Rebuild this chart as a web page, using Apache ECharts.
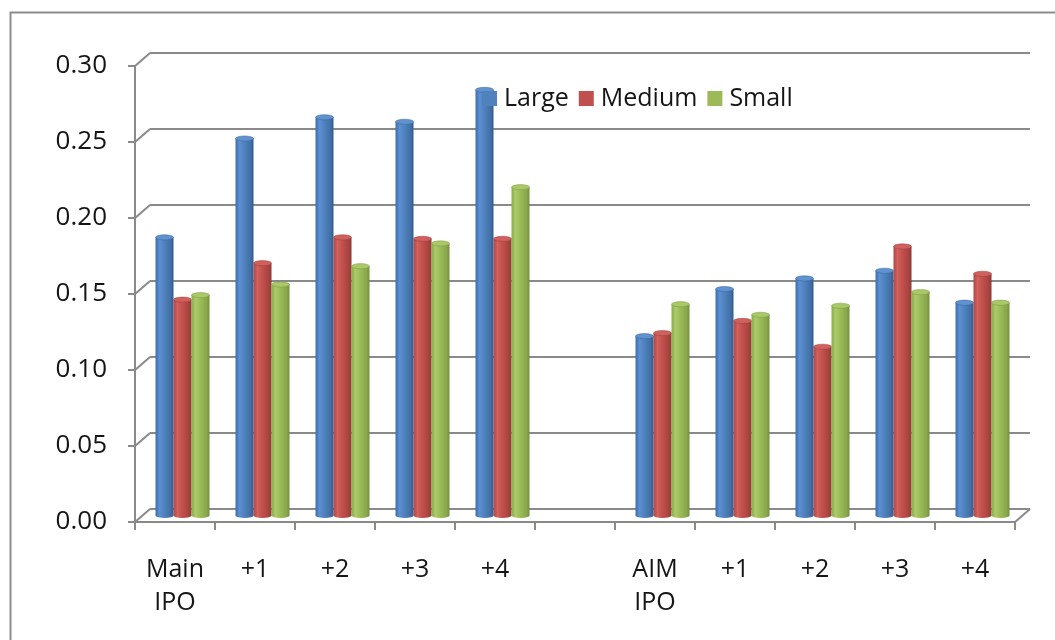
<!DOCTYPE html>
<html>
<head>
<meta charset="utf-8">
<script src="https://cdn.jsdelivr.net/npm/echarts@6/dist/echarts.min.js"></script>
<style>
  html, body { margin: 0; padding: 0; background: #ffffff; }
  #chart { width: 1055px; height: 640px; }
</style>
</head>
<body>
<div id="chart"></div>
<script>
// Categories along the x axis (blank slot separates Main market from AIM)
const categories = ['Main\nIPO', '+1', '+2', '+3', '+4', '', 'AIM\nIPO', '+1', '+2', '+3', '+4'];
const seriesNames = ['Large', 'Medium', 'Small'];
const large  = [0.183, 0.248, 0.262, 0.259, 0.280, null, 0.118, 0.149, 0.156, 0.161, 0.140];
const medium = [0.142, 0.166, 0.183, 0.182, 0.182, null, 0.120, 0.128, 0.111, 0.177, 0.159];
const small  = [0.145, 0.152, 0.164, 0.179, 0.216, null, 0.139, 0.132, 0.138, 0.147, 0.140];
const yTicks = [0, 0.05, 0.10, 0.15, 0.20, 0.25, 0.30];

// Oblique "3D" projection: back wall sits this far right/up of the front axes
const DEPTH_X = 15, DEPTH_Y = -13;
const BAR_W = 18;
const GRID_COLOR = '#8a8a8a';
const TEXT_COLOR = '#151515';
const FONT = 'Open Sans';

const palettes = [
  { base: '#4F81BD', stops: ['#3f6ea8', '#5b90d2', '#4f81bd', '#416ea6', '#325a8c'], top: '#5f92cf', edge: '#3a6499' },
  { base: '#C0504D', stops: ['#ae4744', '#d3605c', '#c0504d', '#a8433f', '#8e3734'], top: '#cf605d', edge: '#9c3d3a' },
  { base: '#9BBB59', stops: ['#8aaa4d', '#abca68', '#9bbb59', '#88a54b', '#728f3c'], top: '#a9c867', edge: '#7d9944' }
];

function toPairs(arr) {
  const out = [];
  arr.forEach((v, i) => { if (v != null) out.push([i, v]); });
  return out;
}

// Cylinder columns drawn through the front grid's scales, shifted half the depth back
function cylinder(s) {
  const pal = palettes[s];
  return function (params, api) {
    const cat = api.value(0), v = api.value(1);
    const top = api.coord([cat, v]);
    const base = api.coord([cat, 0]);
    const cx = top[0] + DEPTH_X / 2 + (s - 1) * BAR_W;
    const x0 = cx - BAR_W / 2;
    const yTop = top[1] + DEPTH_Y / 2;
    const yBase = base[1] + DEPTH_Y / 2;
    const rx = BAR_W / 2, ry = 2.6;
    const grad = {
      type: 'linear', x: 0, y: 0, x2: 1, y2: 0,
      colorStops: [
        { offset: 0, color: pal.stops[0] },
        { offset: 0.22, color: pal.stops[1] },
        { offset: 0.5, color: pal.stops[2] },
        { offset: 0.85, color: pal.stops[3] },
        { offset: 1, color: pal.stops[4] }
      ]
    };
    return {
      type: 'group',
      children: [
        { type: 'circle', x: cx, y: yBase, scaleY: ry / rx, shape: { cx: 0, cy: 0, r: rx }, style: { fill: grad } },
        { type: 'rect', shape: { x: x0, y: yTop, width: BAR_W, height: Math.max(0, yBase - yTop) }, style: { fill: grad } },
        { type: 'circle', x: cx, y: yTop, scaleY: ry / rx, shape: { cx: 0, cy: 0, r: rx },
          style: { fill: pal.top, stroke: pal.edge, lineWidth: 0.8 } }
      ]
    };
  };
}

// Side-wall diagonals from each front tick back to the wall, plus the floor's right edge
function wallEdges(params, api) {
  const v = api.value(1);
  const band = api.size([1, 0])[0];
  const pL = api.coord([0, v]);
  const xL = pL[0] - band / 2;
  const children = [{
    type: 'line',
    shape: { x1: xL, y1: pL[1], x2: xL + DEPTH_X, y2: pL[1] + DEPTH_Y },
    style: { stroke: GRID_COLOR, lineWidth: 2 }
  }];
  if (v === 0) {
    const pR = api.coord([categories.length - 1, 0]);
    const xR = pR[0] + band / 2;
    children.push({
      type: 'line',
      shape: { x1: xR, y1: pR[1], x2: xR + DEPTH_X, y2: pR[1] + DEPTH_Y },
      style: { stroke: GRID_COLOR, lineWidth: 2 }
    });
  }
  return { type: 'group', children };
}

const chart = echarts.init(document.getElementById('chart'), null, { renderer: 'canvas' });

const frontGrid = { left: 135, top: 66, width: 880, height: 456 };
const backGrid = { left: 135 + DEPTH_X, top: 66 + DEPTH_Y, width: 880, height: 456 };

const option = {
  backgroundColor: '#ffffff',
  animation: false,
  textStyle: { fontFamily: FONT },
  graphic: [{
    type: 'rect', left: 8, top: 10, z: -10,
    shape: { width: 1100, height: 700 },
    style: { fill: 'none', stroke: '#8c8c8c', lineWidth: 2 }
  }],
  legend: {
    data: seriesNames,
    left: 477, top: 81,
    icon: 'rect', itemWidth: 15, itemHeight: 15, itemGap: 10,
    textStyle: { fontFamily: FONT, fontSize: 25, color: TEXT_COLOR, padding: [0, 0, 0, 2] }
  },
  grid: [
    Object.assign({ containLabel: false }, frontGrid),
    Object.assign({ containLabel: false }, backGrid)
  ],
  xAxis: [{
    gridIndex: 0, type: 'category', data: categories, boundaryGap: true,
    axisLine: { show: true, lineStyle: { color: GRID_COLOR, width: 2 } },
    axisTick: { show: true, interval: 0, length: 8, lineStyle: { color: GRID_COLOR, width: 2 } },
    axisLabel: { interval: 0, margin: 31, fontFamily: FONT, fontSize: 25, lineHeight: 33, color: TEXT_COLOR },
    splitLine: { show: false }
  }, {
    gridIndex: 1, type: 'category', data: categories, show: false
  }],
  yAxis: [{
    gridIndex: 0, type: 'value', min: 0, max: 0.3, interval: 0.05,
    axisLine: { show: true, lineStyle: { color: GRID_COLOR, width: 2 } },
    axisTick: { show: true, length: 7, lineStyle: { color: GRID_COLOR, width: 2 } },
    axisLabel: { margin: 28, fontFamily: FONT, fontSize: 26, color: TEXT_COLOR,
      formatter: v => v.toFixed(2) },
    splitLine: { show: false }
  }, {
    gridIndex: 1, type: 'value', min: 0, max: 0.3, interval: 0.05,
    axisLine: { show: false }, axisTick: { show: false }, axisLabel: { show: false },
    splitLine: { show: true, lineStyle: { color: GRID_COLOR, width: 2 } }
  }],
  series: [
    {
      name: 'wall', type: 'custom', xAxisIndex: 0, yAxisIndex: 0,
      data: yTicks.map(v => [0, v]), renderItem: wallEdges, silent: true, z: 1
    },
    {
      name: 'Large', type: 'custom', xAxisIndex: 0, yAxisIndex: 0,
      itemStyle: { color: palettes[0].base }, data: toPairs(large), renderItem: cylinder(0), z: 3
    },
    {
      name: 'Medium', type: 'custom', xAxisIndex: 0, yAxisIndex: 0,
      itemStyle: { color: palettes[1].base }, data: toPairs(medium), renderItem: cylinder(1), z: 3
    },
    {
      name: 'Small', type: 'custom', xAxisIndex: 0, yAxisIndex: 0,
      itemStyle: { color: palettes[2].base }, data: toPairs(small), renderItem: cylinder(2), z: 3
    }
  ]
};

chart.setOption(option);
</script>
</body>
</html>
